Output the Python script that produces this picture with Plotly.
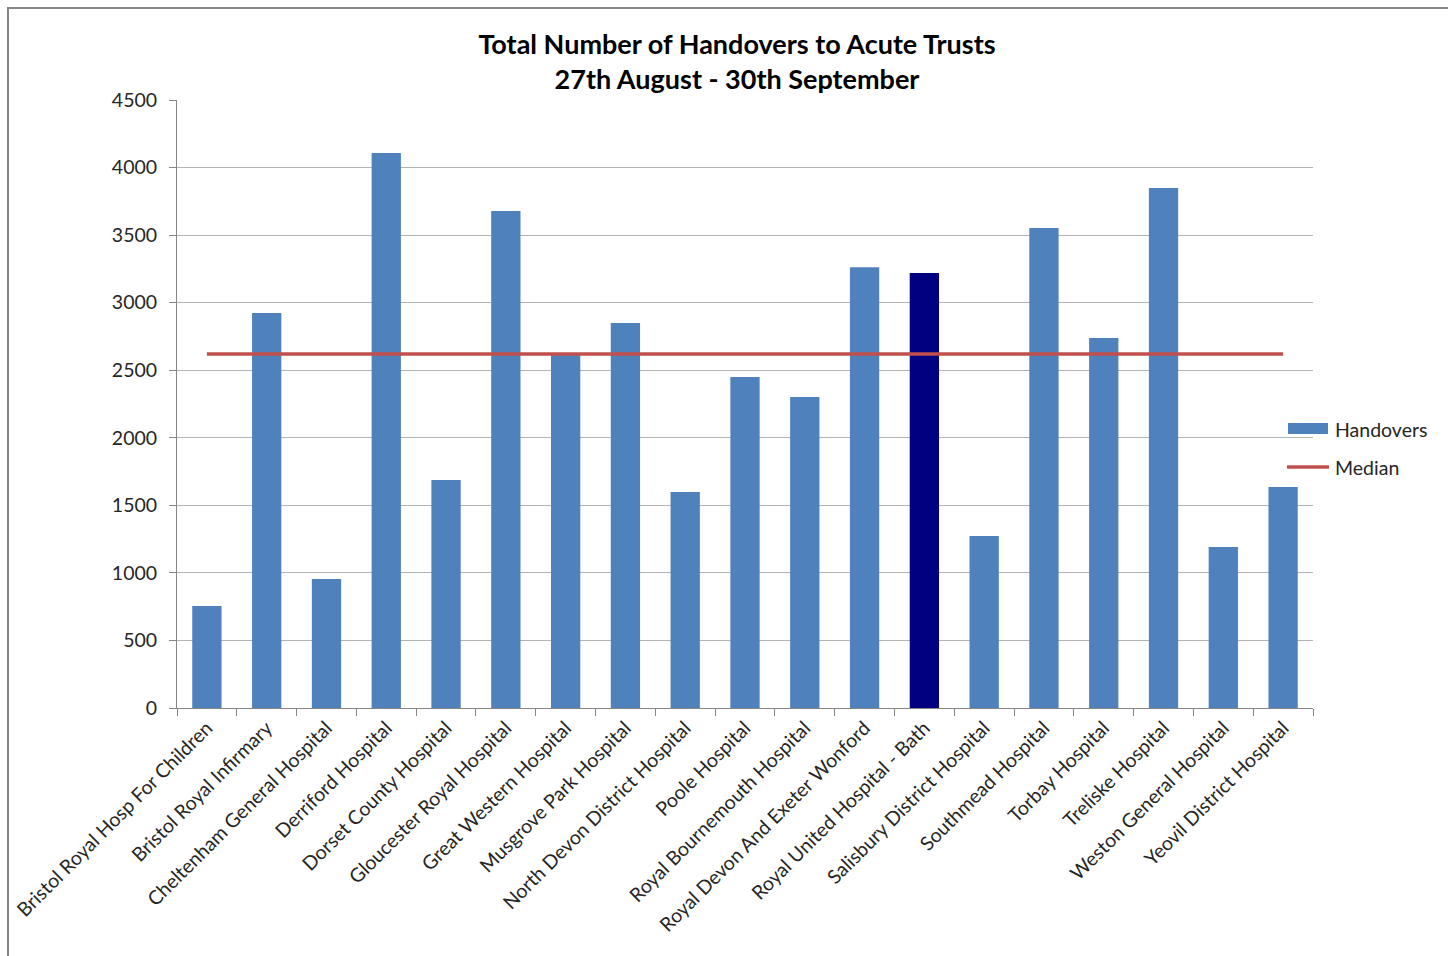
import plotly.graph_objects as go

hospitals = [
    "Bristol Royal Hosp For Children", "Bristol Royal Infirmary", "Cheltenham General Hospital",
    "Derriford Hospital", "Dorset County Hospital", "Gloucester Royal Hospital",
    "Great Western Hospital", "Musgrove Park Hospital", "North Devon District Hospital",
    "Poole Hospital", "Royal Bournemouth Hospital", "Royal Devon And Exeter Wonford",
    "Royal United Hospital - Bath", "Salisbury District Hospital", "Southmead Hospital",
    "Torbay Hospital", "Treliske Hospital", "Weston General Hospital", "Yeovil District Hospital",
]
handovers = [755, 2923, 955, 4107, 1687, 3678, 2627, 2849, 1598, 2449, 2301, 3263,
             3219, 1273, 3552, 2738, 3848, 1191, 1635]
median_value = 2620
highlight = "Royal United Hospital - Bath"

bar_colors = ["#000080" if h == highlight else "#4F81BD" for h in hospitals]

font_family = "Lato, 'Open Sans', sans-serif"

W, H = 1448, 956
L, R, T, B = 177, 1313, 100, 708
PW, PH = R - L, B - T


def px(x):
    return (x - L) / PW


def py(y):
    return (B - y) / PH


fig = go.Figure()
fig.add_trace(go.Bar(
    x=hospitals, y=handovers, name="Handovers",
    marker=dict(color=bar_colors, line=dict(width=0)),
    width=0.49, showlegend=False,
))
fig.add_trace(go.Scatter(
    x=hospitals, y=[median_value] * len(hospitals), name="Median",
    mode="lines", line=dict(color="#C0504D", width=3.5), showlegend=False,
))

fig.update_layout(
    width=W, height=H,
    margin=dict(l=L, r=W - R, t=T, b=H - B),
    paper_bgcolor="white", plot_bgcolor="white",
    font=dict(family=font_family, size=19, color="#262626"),
    title=dict(
        text="<b>Total Number of Handovers to Acute Trusts<br>27th August - 30th September</b>",
        x=737 / W, xanchor="center", y=1 - 54 / H, yanchor="middle",
        font=dict(size=27, color="black", family=font_family),
    ),
    bargap=0.5,
    showlegend=False,
    xaxis=dict(
        type="category", tickangle=-45, showgrid=False,
        showline=True, linecolor="#868686", linewidth=1,
        ticks="outside", tickson="boundaries", ticklen=7, tickcolor="#868686",
        tickfont=dict(size=19.5, color="#262626"),
    ),
    yaxis=dict(
        range=[0, 4500], dtick=500, showgrid=True, gridcolor="#B3B3B3", gridwidth=1,
        showline=True, linecolor="#868686", linewidth=1,
        ticks="outside", ticklen=7, tickcolor="#868686", ticklabelstandoff=8,
        tickfont=dict(size=19.5, color="#262626"), zeroline=False,
    ),
    shapes=[
        dict(
            type="rect", xref="paper", yref="paper",
            x0=px(8), x1=px(1452), y0=py(960), y1=py(8),
            line=dict(color="#868686", width=2), fillcolor="rgba(0,0,0,0)", layer="below",
        ),
        dict(
            type="rect", xref="paper", yref="paper",
            x0=px(1288), x1=px(1328), y0=py(434), y1=py(423),
            line=dict(width=0), fillcolor="#4F81BD",
        ),
        dict(
            type="line", xref="paper", yref="paper",
            x0=px(1287), x1=px(1329), y0=py(467), y1=py(467),
            line=dict(color="#C0504D", width=3.5),
        ),
    ],
    annotations=[
        dict(text="Handovers", xref="paper", yref="paper", x=px(1333), y=py(429),
             xanchor="left", yanchor="middle", showarrow=False,
             font=dict(size=19.5, color="#262626")),
        dict(text="Median", xref="paper", yref="paper", x=px(1333), y=py(467),
             xanchor="left", yanchor="middle", showarrow=False,
             font=dict(size=19.5, color="#262626")),
    ],
)

fig.write_html("out.html")
